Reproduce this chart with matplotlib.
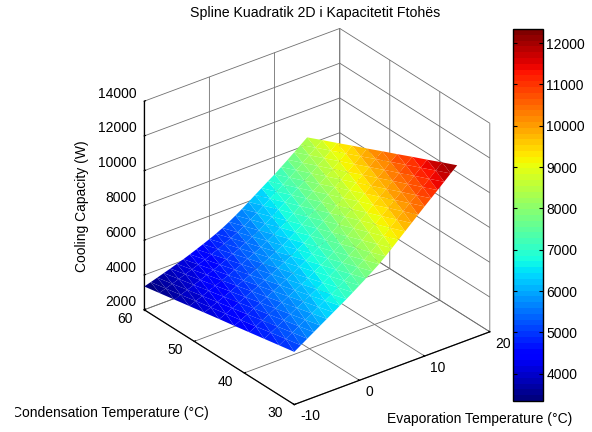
import numpy as np
import matplotlib
matplotlib.use("Agg")
import matplotlib.pyplot as plt
from matplotlib.transforms import Bbox

plt.rcParams['font.family'] = ['Liberation Sans', 'DejaVu Sans']
plt.rcParams['font.size'] = 10
plt.rcParams['axes.unicode_minus'] = False

W, H = 592, 432

# --------------------------
# data
# --------------------------
evap_temp = list(range(-10, 16))
cond_temp = [30, 33, 36, 39, 42, 45, 48, 51, 54, 57, 60]

z_30 = [5030, 5270, 5510, 5750, 5990, 6230, 6470, 6710, 6950, 7200, 7460, 7720, 7990, 8260, 8580, 8910, 9250, 9590, 9930, 10270, 10610, 10940, 11270, 11610, 11950, 12280]
z_33 = [4860, 5090, 5320, 5540, 5770, 6000, 6230, 6460, 6690, 6930, 7180, 7430, 7690, 7960, 8270, 8590, 8920, 9250, 9590, 9920, 10250, 10570, 10900, 11230, 11570, 11900]
z_36 = [4690, 4910, 5120, 5340, 5550, 5770, 5990, 6210, 6430, 6660, 6900, 7140, 7400, 7660, 7960, 8270, 8590, 8920, 9240, 9570, 9890, 10210, 10530, 10860, 11190, 11510]
z_39 = [4520, 4720, 4930, 5130, 5340, 5540, 5750, 5960, 6170, 6390, 6620, 6860, 7100, 7350, 7650, 7950, 8270, 8580, 8900, 9210, 9530, 9840, 10160, 10480, 10810, 11130]
z_42 = [4350, 4540, 4730, 4930, 5120, 5310, 5510, 5710, 5910, 6120, 6340, 6570, 6810, 7050, 7340, 7630, 7940, 8250, 8550, 8860, 9170, 9480, 9790, 10110, 10430, 10740]
z_45 = [4190, 4360, 4540, 4720, 4900, 5090, 5270, 5460, 5660, 5860, 6070, 6280, 6510, 6750, 7030, 7310, 7610, 7910, 8210, 8510, 8810, 9110, 9420, 9730, 10050, 10360]
z_48 = [4020, 4180, 4350, 4510, 4680, 4860, 5030, 5210, 5400, 5590, 5790, 5990, 6210, 6450, 6710, 6990, 7280, 7570, 7870, 8160, 8440, 8740, 9040, 9350, 9660, 9970]
z_51 = [3850, 4000, 4150, 4310, 4460, 4630, 4790, 4960, 5140, 5320, 5510, 5700, 5920, 6150, 6400, 6670, 6950, 7240, 7520, 7810, 8080, 8380, 8670, 8980, 9280, 9590]
z_54 = [3680, 3810, 3960, 4100, 4250, 4400, 4550, 4710, 4880, 5050, 5230, 5420, 5620, 5840, 6090, 6350, 6630, 6900, 7180, 7450, 7720, 8010, 8300, 8600, 8900, 9200]
z_57 = [3510, 3630, 3760, 3900, 4030, 4170, 4310, 4460, 4620, 4780, 4950, 5130, 5330, 5540, 5780, 6030, 6300, 6570, 6830, 7100, 7360, 7650, 7930, 8230, 8520, 8820]
z_60 = [3340, 3450, 3570, 3690, 3810, 3940, 4070, 4210, 4360, 4510, 4670, 4840, 5030, 5240, 5470, 5710, 5970, 6230, 6490, 6750, 7000, 7280, 7560, 7850, 8140, 8430]

x_ticks = [-10, 0, 10, 20]
y_ticks = [30, 40, 50, 60]
z_ticks = [2000, 4000, 6000, 8000, 10000, 12000, 14000]
cbar_ticks = [4000, 5000, 6000, 7000, 8000, 9000, 10000, 11000, 12000]
color_min, color_max = 3340, 12340

cooling = np.array([z_30, z_33, z_36, z_39, z_42, z_45, z_48, z_51, z_54, z_57, z_60])
X, Y = np.meshgrid(evap_temp, cond_temp)

# every cell is cut along the same diagonal, which runs about along the colour bands
nx = len(evap_temp)
triangles = []
for j in range(len(cond_temp) - 1):
    for i in range(nx - 1):
        a = j * nx + i
        triangles.append([a, a + 1, a + nx + 1])
        triangles.append([a, a + nx + 1, a + nx])


def fx(px):
    return px / W


def fy(py):
    return 1 - py / H


fig = plt.figure(figsize=(W / 100, H / 100), dpi=100)

# --------------------------
# surface
# --------------------------
size = 410
ax = fig.add_axes([fx(317 - 0.5135 * size), (215.5 - 0.5135 * size) / H, size / W, size / H],
                  projection="3d")
ax.set_proj_type("ortho")
ax.view_init(elev=29, azim=-127.5)
ax.set_box_aspect((246, 246, 238))
ax.patch.set_alpha(0)

surf = ax.plot_trisurf(X.ravel(), Y.ravel(), cooling.ravel(), triangles=triangles,
                       cmap=plt.get_cmap("jet", 64), vmin=color_min, vmax=color_max,
                       linewidth=0, antialiased=True, shade=False)

ax.set_xlim(-10, 20, view_margin=0)
ax.set_ylim(30, 60, view_margin=0)
ax.set_zlim(2000, 14000, view_margin=0)
ax.set_xticks(x_ticks)
ax.set_yticks(y_ticks)
ax.set_zticks(z_ticks)

for axis in [ax.xaxis, ax.yaxis, ax.zaxis]:
    axis.set_pane_color((1, 1, 1, 0))
    axis.pane.set_edgecolor("none")
    axis.line.set_color("black")
    axis.line.set_linewidth(0.9)
    axis._axinfo["grid"].update(color="#707070", linewidth=0.6)
    axis._axinfo["tick"].update(inward_factor=0, outward_factor=0.08, linewidth={True: 0.8, False: 0.8})

ax.tick_params(axis="x", pad=-2.0)
ax.tick_params(axis="y", pad=0.7)
ax.tick_params(axis="z", pad=-4.6)
for lab in ax.get_xticklabels():
    lab.set_ha("left")
    lab.set_va("center")
for lab in ax.get_yticklabels():
    lab.set_ha("right")
    lab.set_va("bottom")
for lab in ax.get_zticklabels():
    lab.set_ha("right")
    lab.set_va("bottom")

# --------------------------
# colorbar
# --------------------------
cax = fig.add_axes([fx(513), fy(401), 30 / W, 372 / H])
cbar = fig.colorbar(surf, cax=cax, ticks=cbar_ticks)
cbar.ax.tick_params(direction="in", left=True, right=True, length=3, width=0.8, pad=2.5)
cbar.outline.set_linewidth(1.0)

# --------------------------
# texts
# --------------------------
fig.text(fx(315), fy(13.5), "Spline Kuadratik 2D i Kapacitetit Ftohës", ha="center", va="center", fontsize=10.2)
fig.text(fx(82), fy(206), "Cooling Capacity (W)", rotation=90, ha="center", va="center")
fig.text(fx(480), fy(419), "Evaporation Temperature (°C)", ha="center", va="center")
ylab = fig.text(fx(209), fy(413), "Condensation Temperature (°C)", ha="right", va="center")
ylab.set_clip_box(Bbox([[15, 0], [W, H]]))
ylab.set_clip_on(True)

plt.savefig("out.png", dpi=100)
plt.close()
